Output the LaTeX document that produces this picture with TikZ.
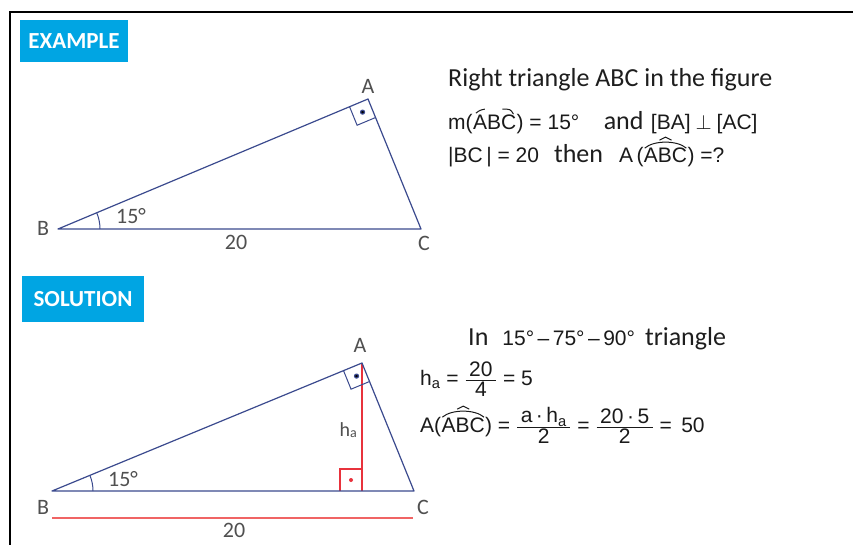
\documentclass[tikz,border=0pt]{standalone}
\usepackage{fontspec}
\setmainfont{Carlito}
\newfontfamily\arialfam{Liberation Sans}
\usetikzlibrary{calc,angles}
\definecolor{tri}{HTML}{3B4A8E}
\definecolor{redl}{HTML}{E8323C}
\definecolor{redb}{HTML}{F06464}
\definecolor{boxblue}{HTML}{00A5E3}
\definecolor{lbl}{HTML}{505050}
\definecolor{txtc}{HTML}{1E1E1E}
\definecolor{mathc}{HTML}{1A1A1A}
\newcommand\afont{\arialfam\fontsize{21}{21}\selectfont}
\newcommand\fr[2]{$\frac{\hbox{#1\rule[-1.5pt]{0pt}{1pt}}}{\hbox{\rule{0pt}{16.5pt}#2}}$}
\begin{document}
\begin{tikzpicture}[x=1pt,y=-1pt,
  tri/.style={draw=tri, line width=1.2pt, line join=round},
  lab/.style={text=lbl, font=\fontsize{22}{22}\selectfont, inner sep=0pt},
  tag/.style={fill=boxblue, text=white, font=\bfseries\fontsize{23}{23}\selectfont, inner sep=0pt},
  txt/.style={anchor=base west, inner sep=0pt, text=txtc, font=\fontsize{26}{26}\selectfont},
  mtxt/.style={anchor=base west, inner sep=0pt, text=mathc, font=\afont},
  acc/.style={draw=mathc, line width=1pt},
  ]
\useasboundingbox (0,0) rectangle (853,545);
\fill[white] (0,0) rectangle (853,545);
\draw[line width=2pt] (10,545) -- (10,12) -- (853,12);

% tags
\node[tag, minimum width=108pt, minimum height=42pt] (ex) at (74,41) {EXAMPLE};
\node[tag, minimum width=122pt, minimum height=46pt] (so) at (83,299) {SOLUTION};

% triangle 1
\coordinate (A1) at (368,99);
\coordinate (B1) at (58,229);
\coordinate (C1) at (421,229);
\draw[tri] (A1) -- (B1) -- (C1) -- cycle;
\coordinate (P1) at ($(A1)!20pt!(B1)$);
\coordinate (Q1) at ($(A1)!20pt!(C1)$);
\coordinate (R1) at ($(P1)+(Q1)-(A1)$);
\draw[draw=tri, line width=1pt] (P1) -- (R1) -- (Q1);
\fill[tri] ($(A1)!0.5!(R1)$) circle (2pt);
\pic[draw=tri, line width=1pt, angle radius=42pt] {angle=C1--B1--A1};
\node[lab] (la1) at (368,86) {A};
\node[lab] (lb1) at (43,228) {B};
\node[lab] (lc1) at (424,243) {C};
\node[lab] (l20a) at (236,242) {20};
\node[lab] (l15a) at (131,216) {15°};

% triangle 2
\coordinate (A2) at (362,363);
\coordinate (B2) at (52,491);
\coordinate (C2) at (414,491);
\coordinate (H2) at (362,491);
\draw[redl, line width=1.2pt] (A2) -- (H2);
\draw[redl, line width=1.1pt] (340,491) |- (362,469);
\fill[redl] (351,480) circle (2pt);
\draw[tri] (A2) -- (B2) -- (C2) -- cycle;
\coordinate (P2) at ($(A2)!20pt!(B2)$);
\coordinate (Q2) at ($(A2)!20pt!(C2)$);
\coordinate (R2) at ($(P2)+(Q2)-(A2)$);
\draw[draw=tri, line width=1pt] (P2) -- (R2) -- (Q2);
\fill[tri] ($(A2)!0.5!(R2)$) circle (2pt);
\pic[draw=tri, line width=1pt, angle radius=41pt] {angle=C2--B2--A2};
\draw[redb, line width=1.5pt] (52,518) -- (413,518);
\node[lab] (la2) at (360,345) {A};
\node[lab] (lb2) at (43,507) {B};
\node[lab] (lc2) at (423,507) {C};
\node[lab] (l20b) at (234,530) {20};
\node[lab] (l15b) at (123,479) {15°};
\node[lab, anchor=east, font=\fontsize{20}{20}\selectfont] (lh) at (357,430) {h\raisebox{-1pt}{\fontsize{14}{14}\selectfont a}};

% example text
\node[txt] (t1) at (448,87) {Right triangle ABC in the figure};

\node[mtxt] (t2a) at (448,130) {m(};
\node[mtxt] (abc2) at (t2a.base east) {ABC};
\node[mtxt] (t2b) at (abc2.base east) {)\;=\;15°};
\node[txt] (t2c) at ([xshift=24pt]t2b.base east) {and};
\node[mtxt] (t2d) at ([xshift=7pt]t2c.base east) {[BA]\hspace{5pt}$\perp$\hspace{5pt}[AC]};
\draw[acc] ($(abc2.north west)+(3,-2)$) .. controls ($(abc2.north west)+(7,-5)$) .. ($(abc2.north west)+(12,-6)$);
\draw[acc] ($(abc2.north east)+(-14,-6)$) .. controls ($(abc2.north east)+(-6,-6)$) .. ($(abc2.north east)+(-3,-1)$);

\node[txt] (t3a) at (448,163) {{\afont\color{mathc}|BC\,|\;=\;20}\hspace{15pt}then\hspace{16pt}{\afont\color{mathc}A\,(}};
\node[mtxt] (abc3) at (t3a.base east) {ABC};
\node[mtxt] (t3b) at (abc3.base east) {)\;=?};
\draw[acc] ($(abc3.north west)+(1,0)$) .. controls ($(abc3.north west)+(10,-8)$) and ($(abc3.north east)+(-10,-8)$) .. ($(abc3.north east)+(-1,0)$);
\draw[acc] ($(abc3.north)+(-6,-8)$) -- ($(abc3.north)+(0,-11)$) -- ($(abc3.north)+(6,-8)$);

% solution text
\node[txt] (s1) at (468,345) {In\hspace{14pt}{\afont\color{mathc}15°\,–\,75°\,–\,90°}\hspace{10pt}triangle};
\node[mtxt] (s2) at (420,385) {h\textsubscript{a}\;=\;\fr{\,20\,}{4}\;=\;5};

\node[mtxt] (s3a) at (420,432) {A(};
\node[mtxt] (abc4) at (s3a.base east) {ABC};
\node[mtxt] (s3b) at (abc4.base east) {)\;=\;\fr{\,a\,·\,h\textsubscript{a}\,}{2}\;=\;\fr{\,20\,·\,5\,}{2}\;=\;\,50};
\draw[acc] ($(abc4.north west)+(1,0)$) .. controls ($(abc4.north west)+(10,-8)$) and ($(abc4.north east)+(-10,-8)$) .. ($(abc4.north east)+(-1,0)$);
\draw[acc] ($(abc4.north)+(-6,-8)$) -- ($(abc4.north)+(0,-11)$) -- ($(abc4.north)+(6,-8)$);
\end{tikzpicture}
\end{document}
